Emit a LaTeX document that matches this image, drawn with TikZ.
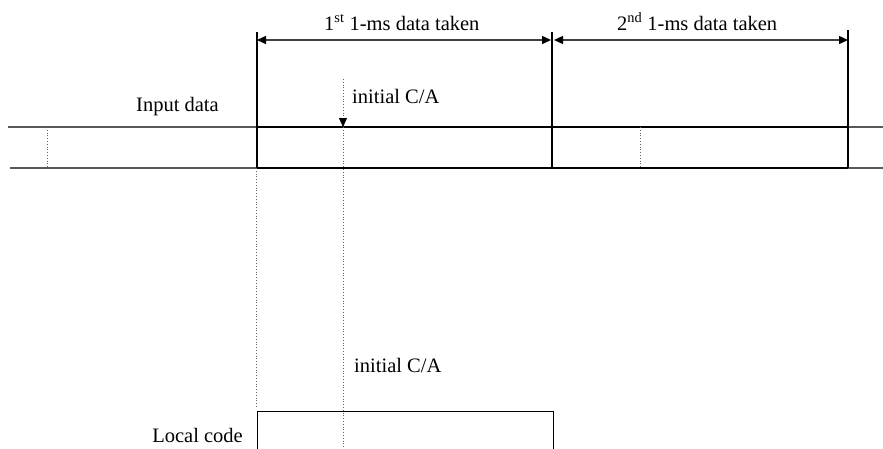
\documentclass[tikz,border=0pt]{standalone}
\usepackage{fontspec}
\setmainfont{Liberation Serif}
\usetikzlibrary{arrows.meta}
\begin{document}
\begin{tikzpicture}[x=1pt,y=-1pt,
  lbl/.style={inner sep=0pt,font=\fontsize{20.5}{24}\selectfont},
  thick line/.style={line width=1.6pt,black},
  grey line/.style={line width=1.4pt,black!65},
  dot line/.style={line width=0.8pt,black!60,dotted},
  dim arrow/.style={line width=1.4pt,black!75,{Triangle[length=9pt,width=8pt,black]}-{Triangle[length=9pt,width=8pt,black]}},
  ca arrow/.style={line width=0.8pt,black!60,dotted,-{Triangle[length=9pt,width=8pt,black]}},
  boxstyle/.style={draw,line width=1.3pt,black}]
\useasboundingbox (0,0) rectangle (883,448);
\clip (0,0) rectangle (883,448);
% coordinates
\coordinate (tlA) at (8,127);   \coordinate (tlB) at (257,127);
\coordinate (tlC) at (848,127); \coordinate (tlD) at (883,127);
\coordinate (blA) at (10,168);  \coordinate (blB) at (257,168);
\coordinate (blC) at (848,168); \coordinate (blD) at (883,168);
\coordinate (v1t) at (257,32);  \coordinate (v1b) at (257,168);
\coordinate (v2t) at (552,32);  \coordinate (v2b) at (552,168);
\coordinate (v3t) at (848,30);  \coordinate (v3b) at (848,168);
\coordinate (a1s) at (257,40);  \coordinate (a1e) at (551,40);
\coordinate (a2s) at (554,40);  \coordinate (a2e) at (848,40);
\coordinate (d1t) at (47,127);  \coordinate (d1b) at (47,168);
\coordinate (d2t) at (640,127); \coordinate (d2b) at (640,168);
\coordinate (cat) at (343,79);  \coordinate (cam) at (343,127);
\coordinate (cab) at (343,168); \coordinate (cae) at (343,450);
\coordinate (lct) at (256,168); \coordinate (lcb) at (256,408);
% input data lines
\draw[grey line] (tlA) -- (tlB);
\draw[thick line] (tlB) -- (tlC);
\draw[grey line] (tlC) -- (tlD);
\draw[grey line] (blA) -- (blB);
\draw[thick line] (blB) -- (blC);
\draw[grey line] (blC) -- (blD);
% vertical boundaries
\draw[thick line] (v1t) -- (v1b);
\draw[thick line] (v2t) -- (v2b);
\draw[thick line] (v3t) -- (v3b);
% dimension arrows
\draw[dim arrow] (a1s) -- (a1e);
\draw[dim arrow] (a2s) -- (a2e);
% dotted marks
\draw[dot line] (d1t) -- (d1b);
\draw[dot line] (d2t) -- (d2b);
\draw[ca arrow] (cat) -- (cam);
\draw[dot line] (cam) -- (cae);
\draw[dot line] (lct) -- (lcb);
% local code box
\node[boxstyle,anchor=north west,minimum width=296pt,minimum height=60pt,inner sep=0pt] (box) at (257,411) {};
% labels
\node[lbl,anchor=base west] (t1) at (324,30) {1\textsuperscript{st} 1-ms data taken};
\node[lbl,anchor=base west] (t2) at (617,30) {2\textsuperscript{nd} 1-ms data taken};
\node[lbl,anchor=base west] (inp) at (136,111) {Input data};
\node[lbl,anchor=base west] (ca1) at (352,103) {initial C/A};
\node[lbl,anchor=base west] (ca2) at (354,372) {initial C/A};
\node[lbl,anchor=base east] (loc) at (243,442) {Local code};
\end{tikzpicture}
\end{document}
